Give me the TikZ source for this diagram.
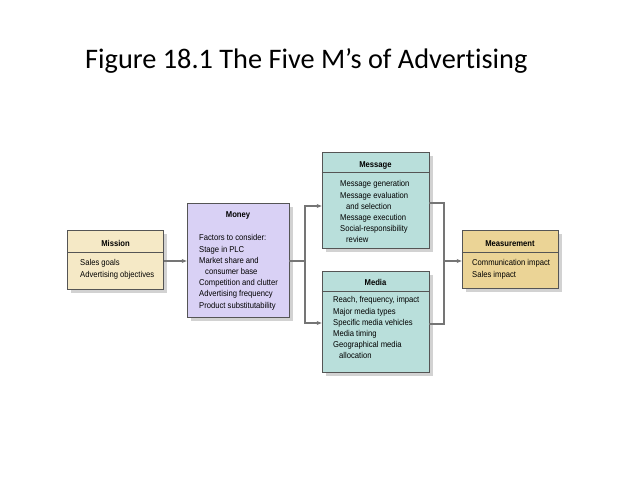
\documentclass[tikz,border=0pt]{standalone}
\usepackage{fontspec}
\setmainfont{Liberation Sans}
\newfontfamily\titlefont[Ligatures=NoCommon]{Carlito}
\newfontfamily\boxfont[FakeStretch=0.9]{Liberation Sans}
\usetikzlibrary{shadows,arrows.meta,calc}
\definecolor{missionc}{HTML}{F5E9C6}
\definecolor{measc}{HTML}{EBD496}
\definecolor{moneyc}{HTML}{D9D1F5}
\definecolor{tealc}{HTML}{B9DFDB}
\definecolor{boxline}{HTML}{555555}
\definecolor{shadowc}{HTML}{D2D2D2}
\definecolor{connc}{HTML}{757575}
\begin{document}
\begin{tikzpicture}[x=1pt,y=-1pt,
  mbox/.style={draw=boxline, line width=0.7pt, inner sep=0pt,
    drop shadow={shadow xshift=3.5pt, shadow yshift=-3.5pt, fill=shadowc, opacity=1}},
  divider/.style={draw=boxline, line width=0.7pt},
  head/.style={font=\boxfont\bfseries\fontsize{8.5}{11.2}\selectfont, inner sep=0pt, anchor=base},
  body/.style={font=\boxfont\fontsize{8.5}{11.2}\selectfont, align=left, inner sep=0pt, anchor=north west},
  conn/.style={draw=connc, line width=1.3pt},
  arr/.style={conn, -{Stealth[length=5pt,width=4pt]}}]
\useasboundingbox[fill=white] (0,0) rectangle (638,479);

\node[font=\titlefont\fontsize{28.3}{34}\selectfont, anchor=base west, inner sep=0pt] (title) at (85,68) {Figure 18.1 The Five M’s of Advertising};

% boxes
\node[mbox, fill=missionc, minimum width=96pt, minimum height=59pt] (mission) at (115.5,259.5) {};
\node[mbox, fill=moneyc, minimum width=102pt, minimum height=114pt] (money) at (238,260) {};
\node[mbox, fill=tealc, minimum width=107pt, minimum height=96pt] (message) at (375.5,200) {};
\node[mbox, fill=tealc, minimum width=107pt, minimum height=101pt] (media) at (375.5,321.5) {};
\node[mbox, fill=measc, minimum width=96pt, minimum height=58pt] (measurement) at (510,259) {};

% dividers
\draw[divider] (mission.west |- 0,252) -- (mission.east |- 0,252);
\draw[divider] (message.west |- 0,172) -- (message.east |- 0,172);
\draw[divider] (media.west |- 0,291) -- (media.east |- 0,291);
\draw[divider] (measurement.west |- 0,252) -- (measurement.east |- 0,252);

% headers
\node[head] (missionh) at (115.5,246) {Mission};
\node[head] (moneyh) at (238,217) {Money};
\node[head] (messageh) at (375.5,167) {Message};
\node[head] (mediah) at (375.5,285) {Media};
\node[head] (meash) at (510,246) {Measurement};

% bodies
\node[body] (missionb) at (80,259.5) {Sales goals\\Advertising objectives};
\node[body] (moneyb) at (199,234.5) {Factors to consider:\\Stage in PLC\\Market share and\\\hspace*{6pt}consumer base\\Competition and clutter\\Advertising frequency\\Product substitutability};
\node[body] (messageb) at (340,180.5) {Message generation\\Message evaluation\\\hspace*{6pt}and selection\\Message execution\\Social-responsibility\\\hspace*{6pt}review};
\node[body] (mediab) at (333,296.5) {Reach, frequency, impact\\Major media types\\Specific media vehicles\\Media timing\\Geographical media\\\hspace*{6pt}allocation};
\node[body] (measb) at (472,259.5) {Communication impact\\Sales impact};

% connectors
\draw[arr] (mission.east |- 0,261) -- (money.west |- 0,261);
\coordinate (split) at (money.east |- 0,261);
\coordinate (splitx) at (305,261);
\draw[conn] (split) -- (splitx);
\draw[arr] (splitx) |- (message.west |- 0,206);
\draw[arr] (splitx) |- (media.west |- 0,323);
\coordinate (joinx) at (444,261);
\draw[conn] (message.east |- 0,203) -| (joinx);
\draw[conn] (media.east |- 0,324) -| (joinx);
\draw[arr] (joinx) -- (measurement.west |- 0,261);
\end{tikzpicture}
\end{document}
